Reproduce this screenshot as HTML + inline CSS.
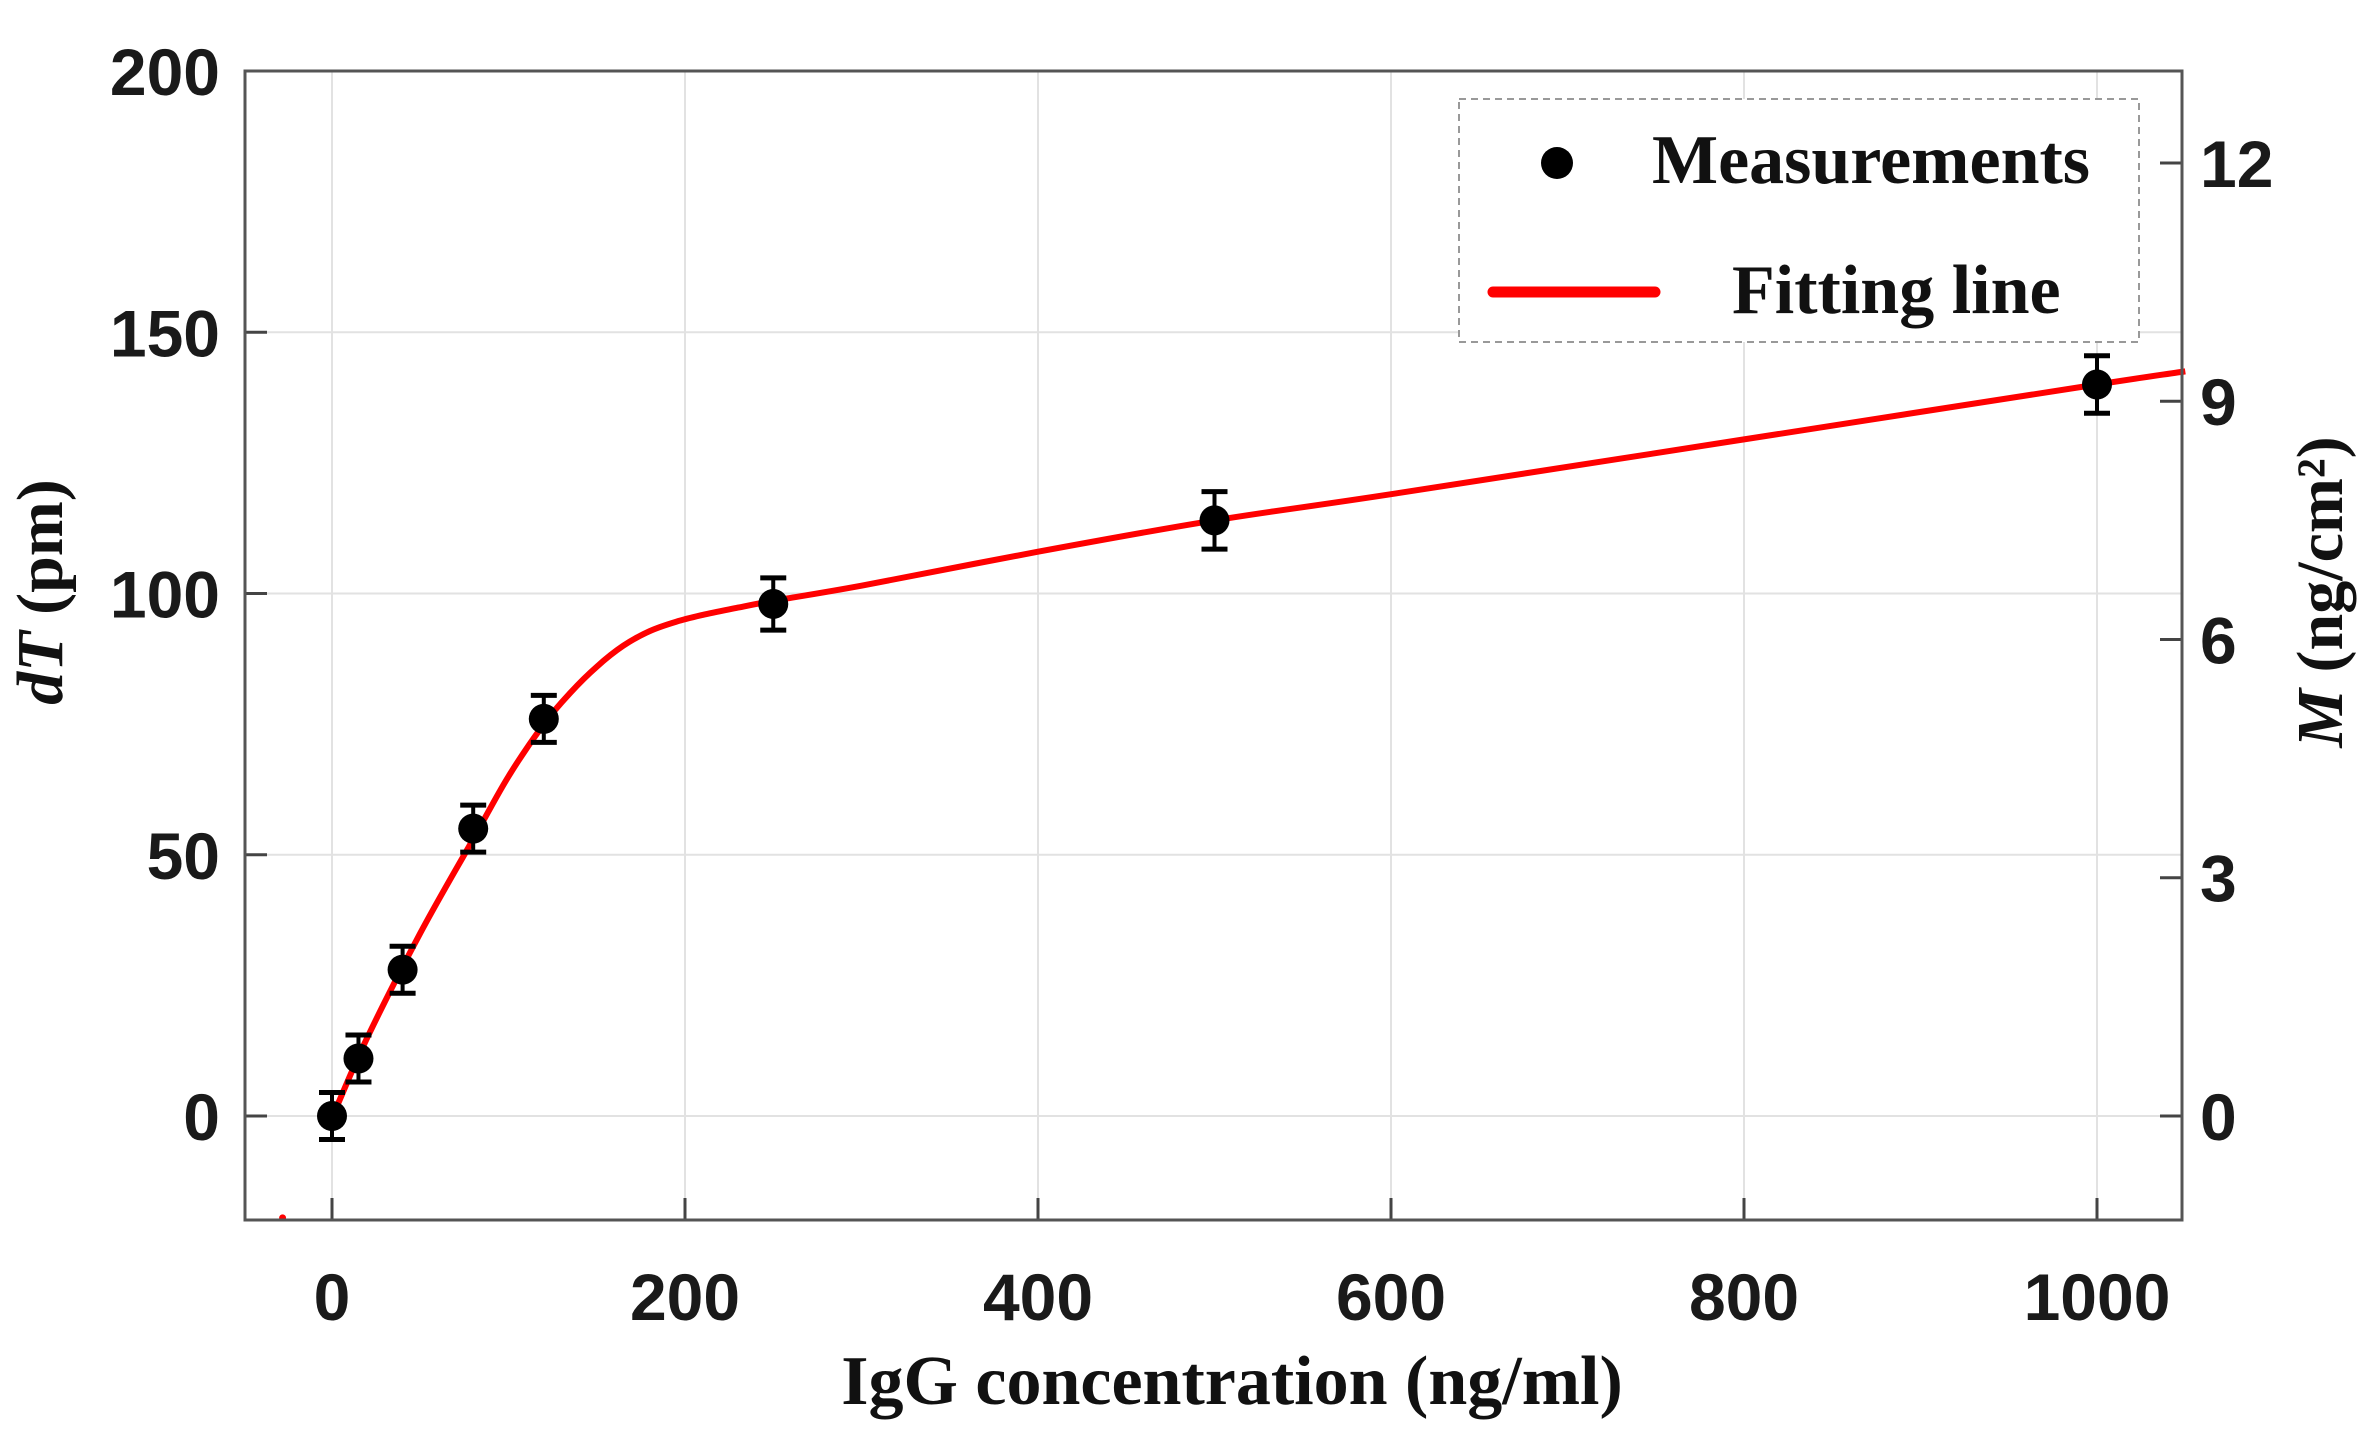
<!DOCTYPE html>
<html><head><meta charset="utf-8"><style>
html,body{margin:0;padding:0;background:#fff;}
svg{display:block;}
.tk{font-family:"Liberation Sans",sans-serif;font-weight:bold;font-size:66px;fill:#1a1a1a;}
.ser{font-family:"Liberation Serif",serif;font-weight:bold;fill:#111;}
</style></head><body>
<svg id="chart" width="2380" height="1443" viewBox="0 0 2380 1443" xmlns="http://www.w3.org/2000/svg">
<rect x="0" y="0" width="2380" height="1443" fill="#fff"/>
<g id="grid"></g>
<g id="fit"></g>
<g id="pts"></g>
<g id="axes"></g>
<g id="legend">
<rect x="1459" y="99" width="680" height="243" fill="#fff" stroke="#999" stroke-width="2" stroke-dasharray="7,5"/>
<circle cx="1557" cy="163" r="16" fill="#000"/>
<text class="ser" x="1652" y="183" font-size="70">Measurements</text>
<line x1="1493" y1="292" x2="1655" y2="292" stroke="#ff0000" stroke-width="11" stroke-linecap="round"/>
<text class="ser" x="1732" y="313" font-size="70">Fitting line</text>
</g>
<text class="ser" x="1232" y="1404" font-size="70" text-anchor="middle">IgG concentration (ng/ml)</text>
<text class="ser" font-size="66" text-anchor="middle" transform="translate(62,592) rotate(-90)"><tspan font-style="italic">dT</tspan> (pm)</text>
<text class="ser" font-size="66" text-anchor="middle" transform="translate(2342,592) rotate(-90)"><tspan font-style="italic">M</tspan> (ng/cm²)</text>
</svg>
<script>
const xTicks=[0,200,400,600,800,1000];
const yTicks=[0,50,100,150,200];
const rTicks=[0,3,6,9,12];
const concX=[0,15,40,80,120,250,500,1000];
const dTY=[0,11,28,55,76,98,114,140];
const errY=[4.5,4.5,4.5,4.5,4.5,5,5.5,5.5];
const fitX=[3,20,50,80,100,120,135,150,165,180,195,210,230,250,300,400,500,600,800,1000,1050];
const fitY=[2,15,35,53,65,75,81,86,90,92.8,94.6,95.9,97.3,98.6,101.5,108,114,119,129.5,140,142.5];
const strayX=-28, strayY=-19.5;
const mPerDT=12/182.4;
const L=245,R=2182,T=71,B=1220;
const x=v=>332+(v)*(685-332)/200;
const y=v=>1116-v*5.225;
const NS='http://www.w3.org/2000/svg';
function mk(tag,attrs,parent){const e=document.createElementNS(NS,tag);for(const k in attrs)e.setAttribute(k,attrs[k]);parent.appendChild(e);return e;}
const grid=document.getElementById('grid'),axes=document.getElementById('axes'),fit=document.getElementById('fit'),pts=document.getElementById('pts');
xTicks.forEach(v=>{
 const g=mk('line',{x1:x(v),x2:x(v),y1:T,y2:B,stroke:'#e2e2e2','stroke-width':2},grid);
 
 
 const t=mk('line',{x1:x(v),x2:x(v),y1:B,y2:B-22,stroke:'#444','stroke-width':3},axes);
 
 
 const l=mk('text',{x:x(v),y:1320,'text-anchor':'middle',class:'tk'},axes);l.textContent=v;
 
 
});
yTicks.forEach(v=>{
 const g=mk('line',{x1:L,x2:R,y1:y(v),y2:y(v),stroke:'#e2e2e2','stroke-width':2},grid);
 
 
 const t=mk('line',{x1:L,x2:L+22,y1:y(v),y2:y(v),stroke:'#444','stroke-width':3},axes);
 
 
 const l=mk('text',{x:220,y:y(v)+24,'text-anchor':'end',class:'tk'},axes);l.textContent=v;
 
 
});
rTicks.forEach(v=>{
 const yy=y(v/mPerDT);
 const t=mk('line',{x1:R,x2:R-22,y1:yy,y2:yy,stroke:'#444','stroke-width':3},axes);
 
 
 const l=mk('text',{x:2200,y:yy+24,'text-anchor':'start',class:'tk'},axes);l.textContent=v;
 
 
});
const frame=mk('rect',{x:L,y:T,width:R-L,height:B-T,fill:'none',stroke:'#555','stroke-width':3},axes);


// smooth path via Catmull-Rom
const P=fitX.map((v,i)=>[x(v),y(fitY[i])]);
let d='M'+P[0][0].toFixed(1)+','+P[0][1].toFixed(1);
for(let i=0;i<P.length-1;i++){
 const p0=P[Math.max(0,i-1)],p1=P[i],p2=P[i+1],p3=P[Math.min(P.length-1,i+2)];
 const c1=[p1[0]+(p2[0]-p0[0])/6,p1[1]+(p2[1]-p0[1])/6];
 const c2=[p2[0]-(p3[0]-p1[0])/6,p2[1]-(p3[1]-p1[1])/6];
 d+=' C'+c1.map(n=>n.toFixed(1)).join(',')+' '+c2.map(n=>n.toFixed(1)).join(',')+' '+p2.map(n=>n.toFixed(1)).join(',');
}
const p=mk('path',{d:d,fill:'none',stroke:'#ff0000','stroke-width':6,'stroke-linejoin':'round'},fit);


const s=mk('circle',{cx:x(strayX),cy:y(strayY),r:3.5,fill:'#ff0000'},fit);


concX.forEach((v,i)=>{
 const g=mk('g',{},pts);
 
 
 const cx=x(v),cy=y(dTY[i]),t=y(dTY[i]+errY[i]),b=y(dTY[i]-errY[i]);
 mk('line',{x1:cx,x2:cx,y1:t,y2:b,stroke:'#000','stroke-width':4},g);
 mk('line',{x1:cx-13,x2:cx+13,y1:t,y2:t,stroke:'#000','stroke-width':5},g);
 mk('line',{x1:cx-13,x2:cx+13,y1:b,y2:b,stroke:'#000','stroke-width':5},g);
 mk('circle',{cx:cx,cy:cy,r:15,fill:'#000'},g);
});
</script>
</body></html>
